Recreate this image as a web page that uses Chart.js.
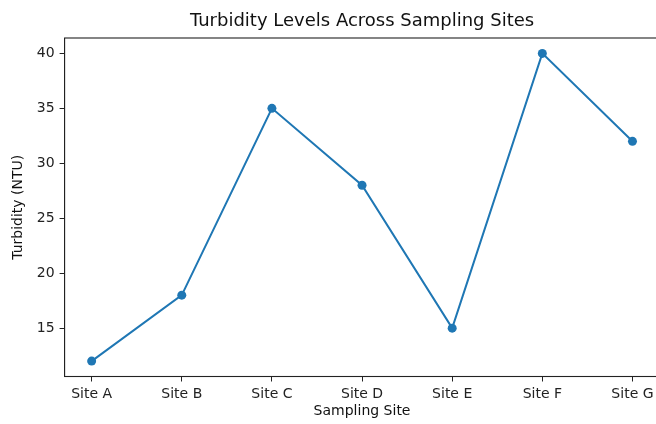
<!DOCTYPE html>
<html>
<head>
<meta charset="utf-8">
<script src="https://cdn.jsdelivr.net/npm/chart.js@4/dist/chart.umd.min.js"></script>
<style>
  html, body { margin: 0; padding: 0; background: #fff; overflow: hidden; width: 656px; height: 424px; }
  canvas { display: block; }
</style>
</head>
<body>
<canvas id="c" width="664" height="424"></canvas>
<script>
const sites = ["Site A", "Site B", "Site C", "Site D", "Site E", "Site F", "Site G"];
const turbidity = [12, 18, 35, 28, 15, 40, 32];
const yTicks = [15, 20, 25, 30, 35, 40];
const chartTitle = 'Turbidity Levels Across Sampling Sites';

const FONT = "'DejaVu Sans', sans-serif";

// frame (all four spines) + title centred over the plot area, as matplotlib does
const framePlugin = {
  id: 'frame',
  afterDraw(chart) {
    const a = chart.chartArea, ctx = chart.ctx;
    ctx.save();
    ctx.strokeStyle = '#222';
    ctx.lineWidth = 1.1;
    ctx.strokeRect(a.left, a.top, a.right - a.left, a.bottom - a.top);
    ctx.fillStyle = '#111';
    ctx.font = "18px " + FONT;
    ctx.textAlign = 'center';
    ctx.textBaseline = 'middle';
    ctx.fillText(chartTitle, (a.left + a.right) / 2, a.top - 16.5);
    ctx.restore();
  }
};

new Chart(document.getElementById('c'), {
  type: 'line',
  data: {
    datasets: [{
      data: turbidity.map((v, i) => ({ x: i, y: v })),
      borderColor: '#1f77b4',
      backgroundColor: '#1f77b4',
      borderWidth: 2,
      pointRadius: 4.5,
      pointHoverRadius: 4.5,
      pointBackgroundColor: '#1f77b4',
      pointBorderWidth: 0,
      tension: 0,
      fill: false
    }]
  },
  options: {
    responsive: false,
    animation: false,
    events: [],
    layout: { padding: { left: 0, right: 4, top: 38, bottom: 0 } },
    plugins: {
      legend: { display: false },
      tooltip: { enabled: false },
      title: { display: false }
    },
    scales: {
      x: {
        type: 'linear',
        min: -0.3,
        max: 6.3,
        afterBuildTicks: s => { s.ticks = sites.map((_, i) => ({ value: i })); },
        afterFit: s => { s.height = 47.5; },
        ticks: {
          callback: v => sites[v],
          color: '#222',
          font: { family: FONT, size: 14 },
          padding: 4.5,
          maxRotation: 0,
          autoSkip: false
        },
        grid: { drawOnChartArea: false, drawTicks: true, tickLength: 5, color: '#222', tickWidth: 1 },
        border: { display: true, color: '#222', width: 1 },
        title: {
          display: true,
          text: 'Sampling Site',
          color: '#111',
          font: { family: FONT, size: 14 },
          padding: { top: 0, bottom: 4.6 }
        }
      },
      y: {
        type: 'linear',
        min: 10.6,
        max: 41.4,
        afterBuildTicks: s => { s.ticks = yTicks.map(v => ({ value: v })); },
        afterFit: s => { s.width = 64.6; },
        ticks: {
          color: '#222',
          font: { family: FONT, size: 14 },
          padding: 5
        },
        grid: { drawOnChartArea: false, drawTicks: true, tickLength: 5, color: '#222', tickWidth: 1 },
        border: { display: true, color: '#222', width: 1 },
        title: {
          display: true,
          text: 'Turbidity (NTU)',
          color: '#111',
          font: { family: FONT, size: 14 },
          padding: { top: 9.6, bottom: 0 }
        }
      }
    }
  },
  plugins: [framePlugin]
});
</script>
</body>
</html>
